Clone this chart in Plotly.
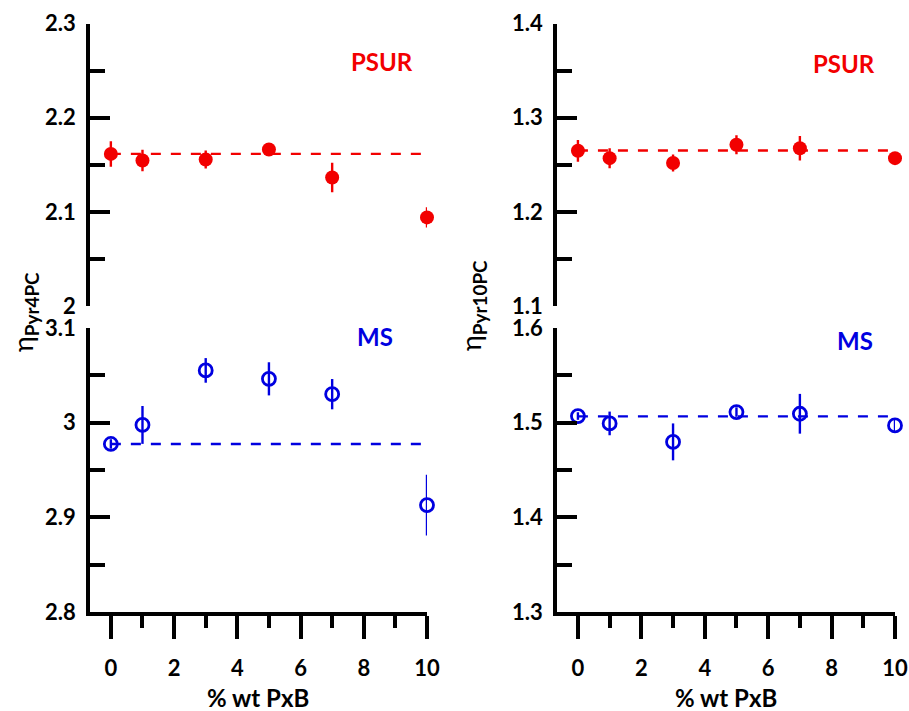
import plotly.graph_objects as go

W, H = 909, 711

# Polymer content (% wt PxB)
x_pxb = [0, 1, 3, 5, 7, 10]

# Pyr4PC probe
pyr4_psur = [2.1615, 2.1545, 2.1555, 2.1662, 2.1364, 2.0941]
pyr4_psur_err = [0.0135, 0.0115, 0.0095, 0.005, 0.0157, 0.0107]
pyr4_psur_ref = 2.1615
pyr4_ms = [2.9775, 2.9976, 3.0552, 3.0463, 3.0301, 2.9129]
pyr4_ms_err = [0.005, 0.020, 0.013, 0.0175, 0.016, 0.032]
pyr4_ms_ref = 2.9775

# Pyr10PC probe
pyr10_psur = [1.2648, 1.2570, 1.2518, 1.2712, 1.2676, 1.2570]
pyr10_psur_err = [0.0115, 0.0106, 0.009, 0.010, 0.013, 0.005]
pyr10_psur_ref = 1.2651
pyr10_ms = [1.5070, 1.4992, 1.4797, 1.5112, 1.5094, 1.4971]
pyr10_ms_err = [0.004, 0.0125, 0.0195, 0.005, 0.021, 0.006]
pyr10_ms_ref = 1.5066

RED = "#f20000"
BLUE = "#0000e0"
FONT = "Lato"


def px_x(p):
    return p / W


def px_y(p):
    return 1 - p / H


fig = go.Figure()

panels = [
    # (xaxis, yaxis, values, errors, ref, colour, filled)
    ("x", "y", pyr4_psur, pyr4_psur_err, pyr4_psur_ref, RED, True),
    ("x2", "y2", pyr4_ms, pyr4_ms_err, pyr4_ms_ref, BLUE, False),
    ("x3", "y3", pyr10_psur, pyr10_psur_err, pyr10_psur_ref, RED, True),
    ("x4", "y4", pyr10_ms, pyr10_ms_err, pyr10_ms_ref, BLUE, False),
]

for xa, ya, vals, errs, ref, col, filled in panels:
    fig.add_trace(go.Scatter(
        x=[x_pxb[0], x_pxb[-1]], y=[ref, ref], mode="lines",
        line=dict(color=col, width=2.4, dash="10px,10px"),
        xaxis=xa, yaxis=ya, showlegend=False, hoverinfo="skip",
        cliponaxis=False,
    ))
    fig.add_trace(go.Scatter(
        x=x_pxb, y=vals, mode="markers",
        marker=dict(
            symbol="circle" if filled else "circle-open",
            size=14 if filled else 13,
            color=col,
            line=dict(color=col, width=0 if filled else 2.8),
        ),
        error_y=dict(type="data", array=errs, visible=True,
                     color=col, thickness=2.4, width=0),
        xaxis=xa, yaxis=ya, showlegend=False, cliponaxis=False,
    ))

tick_font = dict(family=FONT, size=22, color="black", weight="bold")

x_common = dict(range=[-0.66, 10], tick0=0, dtick=2, fixedrange=True)
x_shown = dict(
    showline=True, linewidth=3.5, linecolor="black",
    ticks="outside", ticklen=23, tickwidth=3.5, tickcolor="black",
    minor=dict(dtick=1, ticks="outside", ticklen=12, tickwidth=3.5,
               tickcolor="black"),
    tickfont=tick_font, showgrid=False, zeroline=False,
    ticklabelstandoff=11, automargin=False,
)


def y_axis(lo, hi, dom):
    return dict(
        domain=dom, range=[lo, hi], tick0=lo, dtick=0.1,
        showline=True, linewidth=3.5, linecolor="black",
        ticks="inside", ticklen=20, tickwidth=3.5, tickcolor="black",
        minor=dict(dtick=0.05, ticks="inside", ticklen=15, tickwidth=3.5,
                   tickcolor="black"),
        tickfont=tick_font, showgrid=False, zeroline=False,
        automargin=False, fixedrange=True, ticklabelstandoff=6,
    )


left_dom = [px_x(90), px_x(427)]
right_dom = [px_x(557), px_x(895)]
top_dom = [px_y(306), px_y(23.5)]
bot_dom = [px_y(612), px_y(328)]

fig.update_layout(
    width=W, height=H,
    margin=dict(l=0, r=0, t=0, b=0),
    paper_bgcolor="white", plot_bgcolor="white",
    xaxis=dict(domain=left_dom, anchor="y", visible=False, **x_common),
    xaxis2=dict(domain=left_dom, anchor="y2", **x_common, **x_shown),
    xaxis3=dict(domain=right_dom, anchor="y3", visible=False, **x_common),
    xaxis4=dict(domain=right_dom, anchor="y4", **x_common, **x_shown),
    yaxis=y_axis(2.0, 2.3, top_dom) | dict(anchor="x"),
    yaxis2=y_axis(2.8, 3.1, bot_dom) | dict(anchor="x2"),
    yaxis3=y_axis(1.1, 1.4, top_dom) | dict(anchor="x3"),
    yaxis4=y_axis(1.3, 1.6, bot_dom) | dict(anchor="x4"),
)

label_font = dict(family=FONT, size=24, weight="bold")
title_font = dict(family=FONT, size=24, weight="bold", color="black")
annotations = [
    dict(text="PSUR", x=px_x(382), y=px_y(62), font=label_font | dict(color=RED)),
    dict(text="MS", x=px_x(375), y=px_y(336), font=label_font | dict(color=BLUE)),
    dict(text="PSUR", x=px_x(844), y=px_y(64), font=label_font | dict(color=RED)),
    dict(text="MS", x=px_x(855), y=px_y(340), font=label_font | dict(color=BLUE)),
    dict(text="% wt PxB", x=px_x(258), y=px_y(697), font=title_font),
    dict(text="% wt PxB", x=px_x(726), y=px_y(697), font=title_font),
    dict(text="η<sub><b>Pyr4PC</b></sub>", x=px_x(24), y=px_y(312),
         textangle=-90, font=dict(family=FONT, size=27, color="black")),
    dict(text="η<sub><b>Pyr10PC</b></sub>", x=px_x(472), y=px_y(306),
         textangle=-90, font=dict(family=FONT, size=27, color="black")),
]
for a in annotations:
    a.update(xref="paper", yref="paper", showarrow=False,
             xanchor="center", yanchor="middle")
fig.update_layout(annotations=annotations)

fig.write_html("out.html")
